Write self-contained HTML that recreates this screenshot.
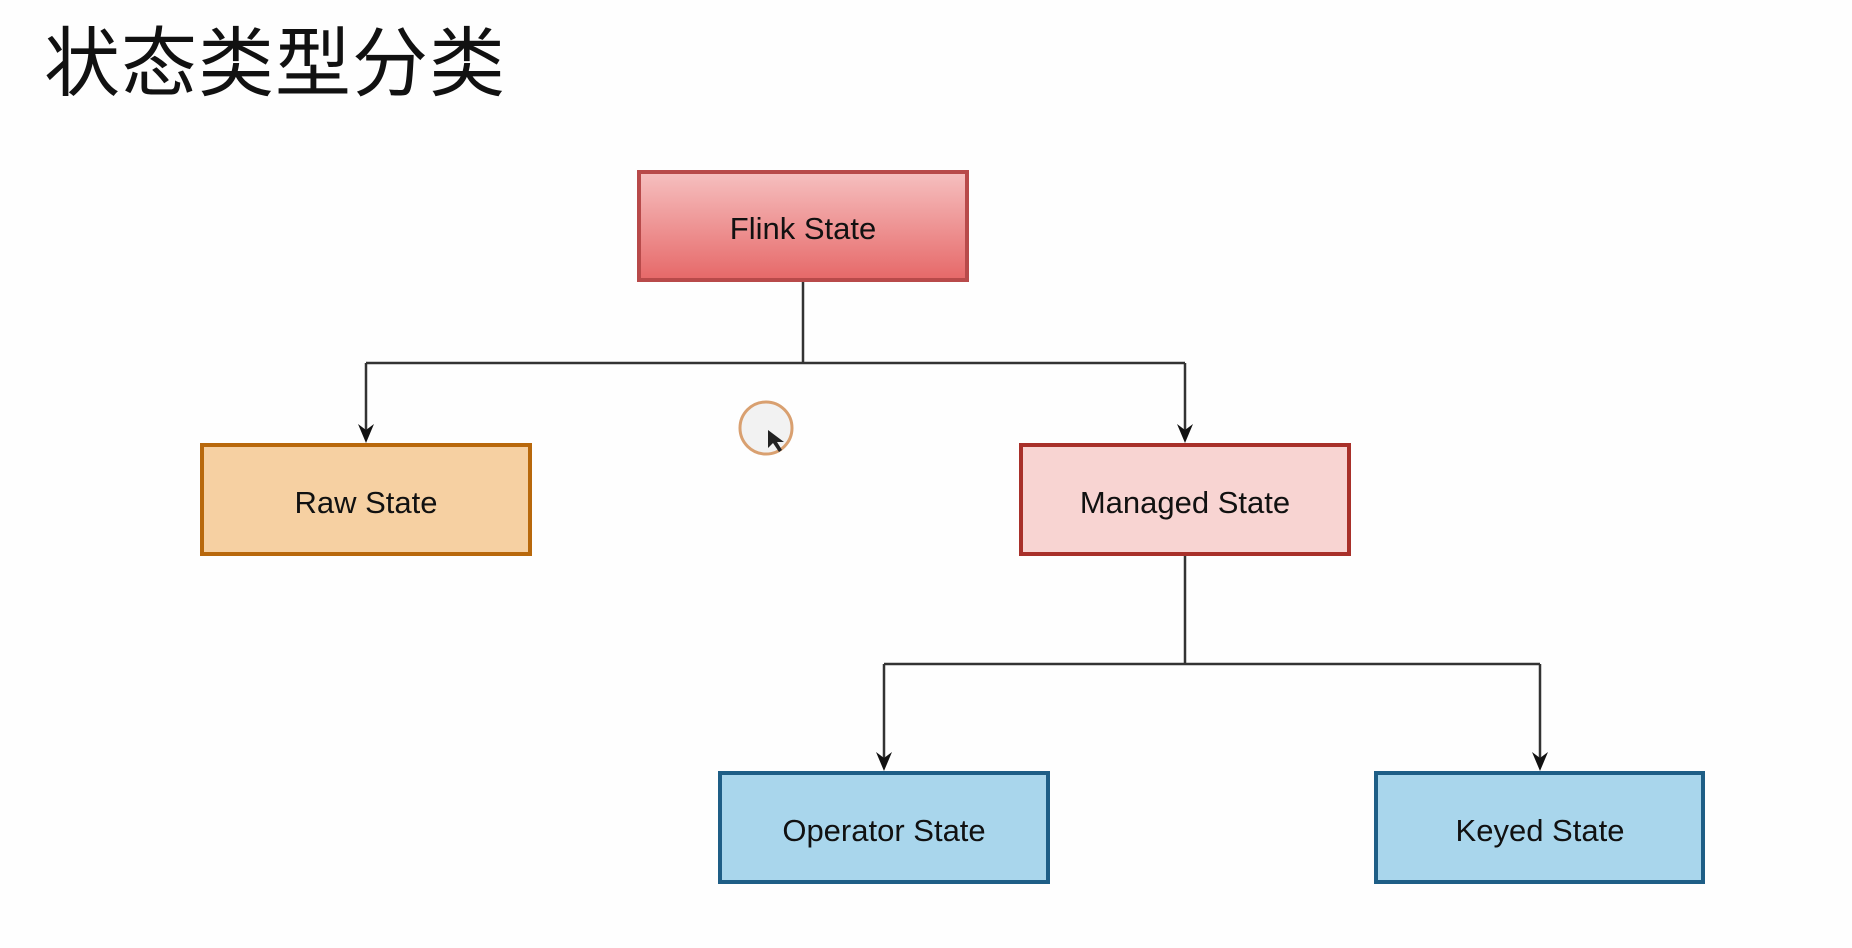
<!DOCTYPE html>
<html><head><meta charset="utf-8"><style>
html,body{margin:0;padding:0;background:#fefefe;}
body{width:1852px;height:948px;position:relative;overflow:hidden;font-family:"Liberation Sans","Noto Sans CJK SC",sans-serif;}
.t{position:absolute;left:44px;top:2px;font-size:76px;color:#111;letter-spacing:1px;}
</style></head><body>
<div class="t">状态类型分类</div>
<svg width="1852" height="948" style="position:absolute;left:0;top:0">
<defs>
<linearGradient id="r" x1="0" y1="0" x2="0" y2="1"><stop offset="0" stop-color="#f6c0c0"/><stop offset="1" stop-color="#e66868"/></linearGradient>
</defs>
<g stroke="#333" stroke-width="2.5" fill="none">
<path d="M803,281 V363"/>
<path d="M366,363 H1185"/>
<path d="M366,363 V430"/>
<path d="M1185,363 V430"/>
<path d="M1185,555 V664"/>
<path d="M884,664 H1540"/>
<path d="M884,664 V758"/>
<path d="M1540,664 V758"/>
</g>
<g fill="#111">
<path d="M358,424 L366,443 L374,424 L366,430 Z"/>
<path d="M1177,424 L1185,443 L1193,424 L1185,430 Z"/>
<path d="M876,752 L884,771 L892,752 L884,758 Z"/>
<path d="M1532,752 L1540,771 L1548,752 L1540,758 Z"/>
</g>
<rect x="639" y="172" width="328" height="108" fill="url(#r)" stroke="#b84a4a" stroke-width="4"/>
<rect x="202" y="445" width="328" height="109" fill="#f6d0a2" stroke="#b8680c" stroke-width="4"/>
<rect x="1021" y="445" width="328" height="109" fill="#f8d4d2" stroke="#a8302a" stroke-width="4"/>
<rect x="720" y="773" width="328" height="109" fill="#a9d6ec" stroke="#1e5e86" stroke-width="4"/>
<rect x="1376" y="773" width="327" height="109" fill="#a9d6ec" stroke="#1e5e86" stroke-width="4"/>
<g font-family="Liberation Sans, sans-serif" font-size="31" fill="#111" text-anchor="middle">
<text x="803" y="239">Flink State</text>
<text x="366" y="513">Raw State</text>
<text x="1185" y="513">Managed State</text>
<text x="884" y="841">Operator State</text>
<text x="1540" y="841">Keyed State</text>
</g>
<circle cx="766" cy="428" r="26" fill="#f2f2f2" stroke="#d9a070" stroke-width="3"/>
<path d="M768,430 l0,18 l5,-5 l6,9 l3,-2 l-5,-8 l7,0 z" fill="#222"/>
</svg>
</body></html>
